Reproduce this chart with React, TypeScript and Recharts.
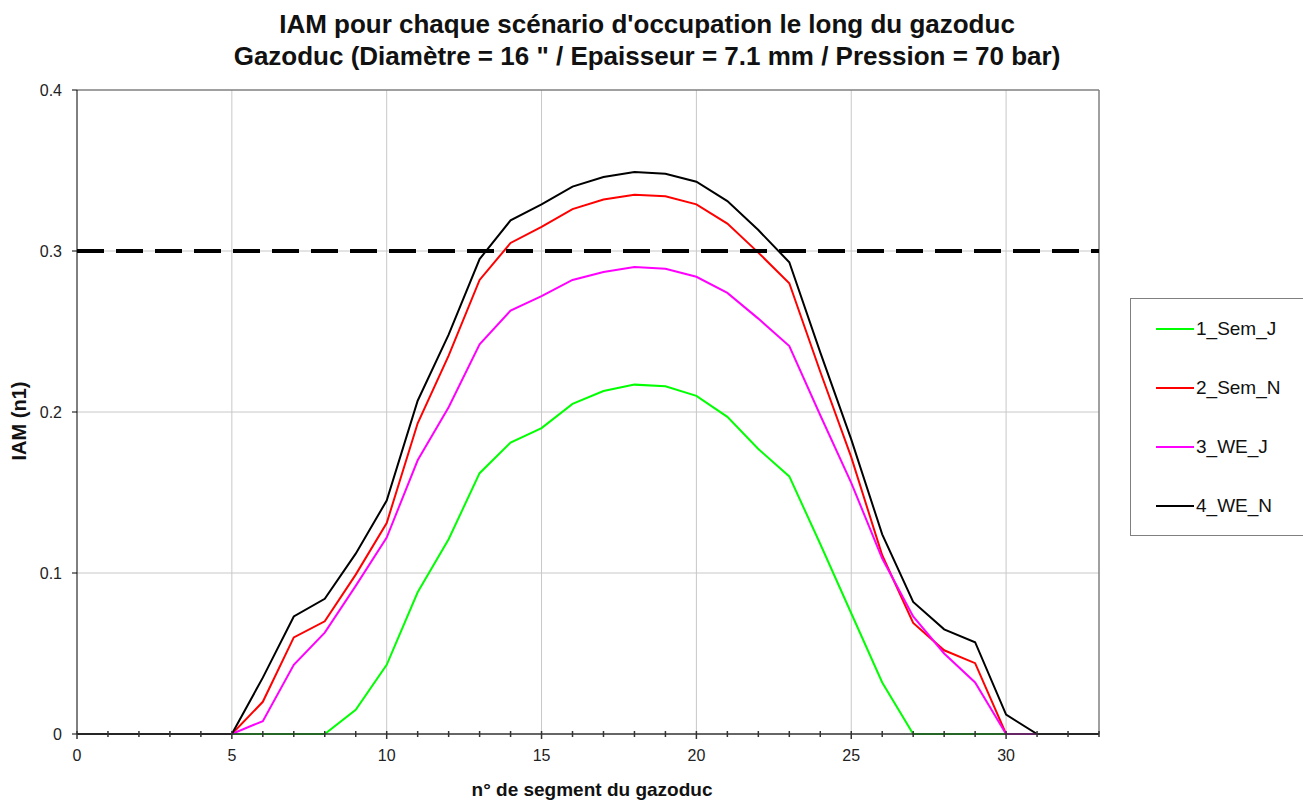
import React from 'react';
import { LineChart, Line, XAxis, YAxis, CartesianGrid, ReferenceLine } from 'recharts';

// n° de segment
const segments = [0, 1, 2, 3, 4, 5, 6, 7, 8, 9, 10, 11, 12, 13, 14, 15, 16, 17, 18, 19, 20, 21, 22, 23, 24, 25, 26, 27, 28, 29, 30, 31, 32, 33];

const semJ = [0, 0, 0, 0, 0, 0, 0, 0, 0, 0.015, 0.043, 0.088, 0.121, 0.162, 0.181, 0.190, 0.205, 0.213, 0.217, 0.216, 0.210, 0.197, 0.177, 0.160, 0.118, 0.075, 0.032, 0, 0, 0, 0, 0, 0, 0];
const semN = [0, 0, 0, 0, 0, 0, 0.020, 0.060, 0.070, 0.099, 0.131, 0.193, 0.235, 0.282, 0.305, 0.315, 0.326, 0.332, 0.335, 0.334, 0.329, 0.317, 0.299, 0.280, 0.225, 0.172, 0.111, 0.069, 0.052, 0.044, 0, 0, 0, 0];
const weJ = [0, 0, 0, 0, 0, 0, 0.008, 0.043, 0.063, 0.092, 0.122, 0.170, 0.203, 0.242, 0.263, 0.272, 0.282, 0.287, 0.290, 0.289, 0.284, 0.274, 0.258, 0.241, 0.198, 0.156, 0.109, 0.073, 0.050, 0.032, 0, 0, 0, 0];
const weN = [0, 0, 0, 0, 0, 0, 0.035, 0.073, 0.084, 0.112, 0.145, 0.207, 0.248, 0.295, 0.319, 0.329, 0.340, 0.346, 0.349, 0.348, 0.343, 0.331, 0.313, 0.293, 0.237, 0.183, 0.124, 0.082, 0.065, 0.057, 0.012, 0, 0, 0];

const seuil = 0.3;
const yTicks = [0, 0.1, 0.2, 0.3, 0.4];
const xMajor = [0, 5, 10, 15, 20, 25, 30];
const xGrid = [5, 10, 15, 20, 25, 30];

const series = [
  { key: 'semJ', name: '1_Sem_J', color: '#00ff00' },
  { key: 'semN', name: '2_Sem_N', color: '#ff0000' },
  { key: 'weJ', name: '3_WE_J', color: '#ff00ff' },
  { key: 'weN', name: '4_WE_N', color: '#000000' },
];

const data = segments.map((s, i) => ({
  seg: s,
  semJ: semJ[i],
  semN: semN[i],
  weJ: weJ[i],
  weN: weN[i],
}));

const FONT = '"Liberation Sans", Arial, sans-serif';

const XTick = (props: any) => {
  const { x, y, payload } = props;
  const major = xMajor.includes(payload.value);
  return <g>
      <line x1={x} x2={x} y1={y - 3} y2={y + (major ? 5 : 3)} stroke="#333" strokeWidth={1.5} />
      {major && <text x={x} y={y + 27} textAnchor="middle" fontSize={16} fill="#222" fontFamily={FONT}>{payload.value}</text>}
    </g>;
};

const LegendBox = () => <div style={{
  position: 'absolute',
  left: 1130,
  top: 298,
  width: 190,
  height: 238,
  border: '1px solid #808080',
  boxSizing: 'border-box',
  background: 'white',
  fontSize: 19,
  color: '#111'
}}>
    {series.map(s => <div key={s.key} style={{ display: 'flex', alignItems: 'center', height: 59 }}>
        <div style={{ width: 38, height: 0, borderTop: `2px solid ${s.color}`, marginLeft: 25, marginRight: 2 }} />
        <span>{s.name}</span>
      </div>)}
  </div>;

const App = () => {
  return <div style={{ position: 'relative', width: 1303, height: 800, background: 'white', fontFamily: FONT, overflow: 'hidden' }}>
      <style>{`body{margin:0}`}</style>
      <div style={{ position: 'absolute', left: 0, width: 1294, top: 8, textAlign: 'center', fontWeight: 'bold', fontSize: 26, lineHeight: '32px', color: '#111' }}>
        IAM pour chaque scénario d'occupation le long du gazoduc<br />
        Gazoduc (Diamètre = 16 " / Epaisseur = 7.1 mm / Pression = 70 bar)
      </div>
      <div style={{ position: 'absolute', left: 19, top: 421, transform: 'translate(-50%, -50%) rotate(-90deg)', fontWeight: 'bold', fontSize: 20, whiteSpace: 'nowrap', color: '#111' }}>
        IAM (n1)
      </div>
      <div style={{ position: 'absolute', left: 592, top: 789, transform: 'translate(-50%, -50%)', fontWeight: 'bold', fontSize: 19, lineHeight: '19px', whiteSpace: 'nowrap', color: '#111' }}>
        n° de segment du gazoduc
      </div>
      <div style={{ position: 'absolute', left: 0, top: 0 }}>
        <LineChart width={1303} height={800} data={data} margin={{ top: 90, right: 204, left: 0, bottom: 0 }}>
          <CartesianGrid stroke="#c8c8c8" verticalValues={xGrid} horizontalValues={[0.1, 0.2, 0.3]} />
          <ReferenceLine y={0.4} stroke="#808080" strokeWidth={1.5} />
          <ReferenceLine x={33} stroke="#808080" strokeWidth={1.5} />
          <XAxis dataKey="seg" type="number" domain={[0, 33]} ticks={segments} interval={0} height={66} tickSize={0} tickMargin={0} tickLine={false} tick={<XTick />} stroke="#333" strokeWidth={1.5} allowDataOverflow />
          <YAxis type="number" domain={[0, 0.4]} ticks={yTicks} width={77} tickSize={5} tickMargin={10} stroke="#000" tick={{ fontSize: 16, fill: '#222', fontFamily: FONT }} tickFormatter={(v: number) => v === 0 ? '0' : v.toFixed(1)} />
          {series.map(s => <Line key={s.key} type="linear" dataKey={s.key} name={s.name} stroke={s.color} strokeWidth={2} dot={false} activeDot={false} isAnimationActive={false} />)}
          <ReferenceLine y={seuil} stroke="#000" strokeWidth={4} strokeDasharray="27 12" />
        </LineChart>
      </div>
      <LegendBox />
    </div>;
};

export default App;
